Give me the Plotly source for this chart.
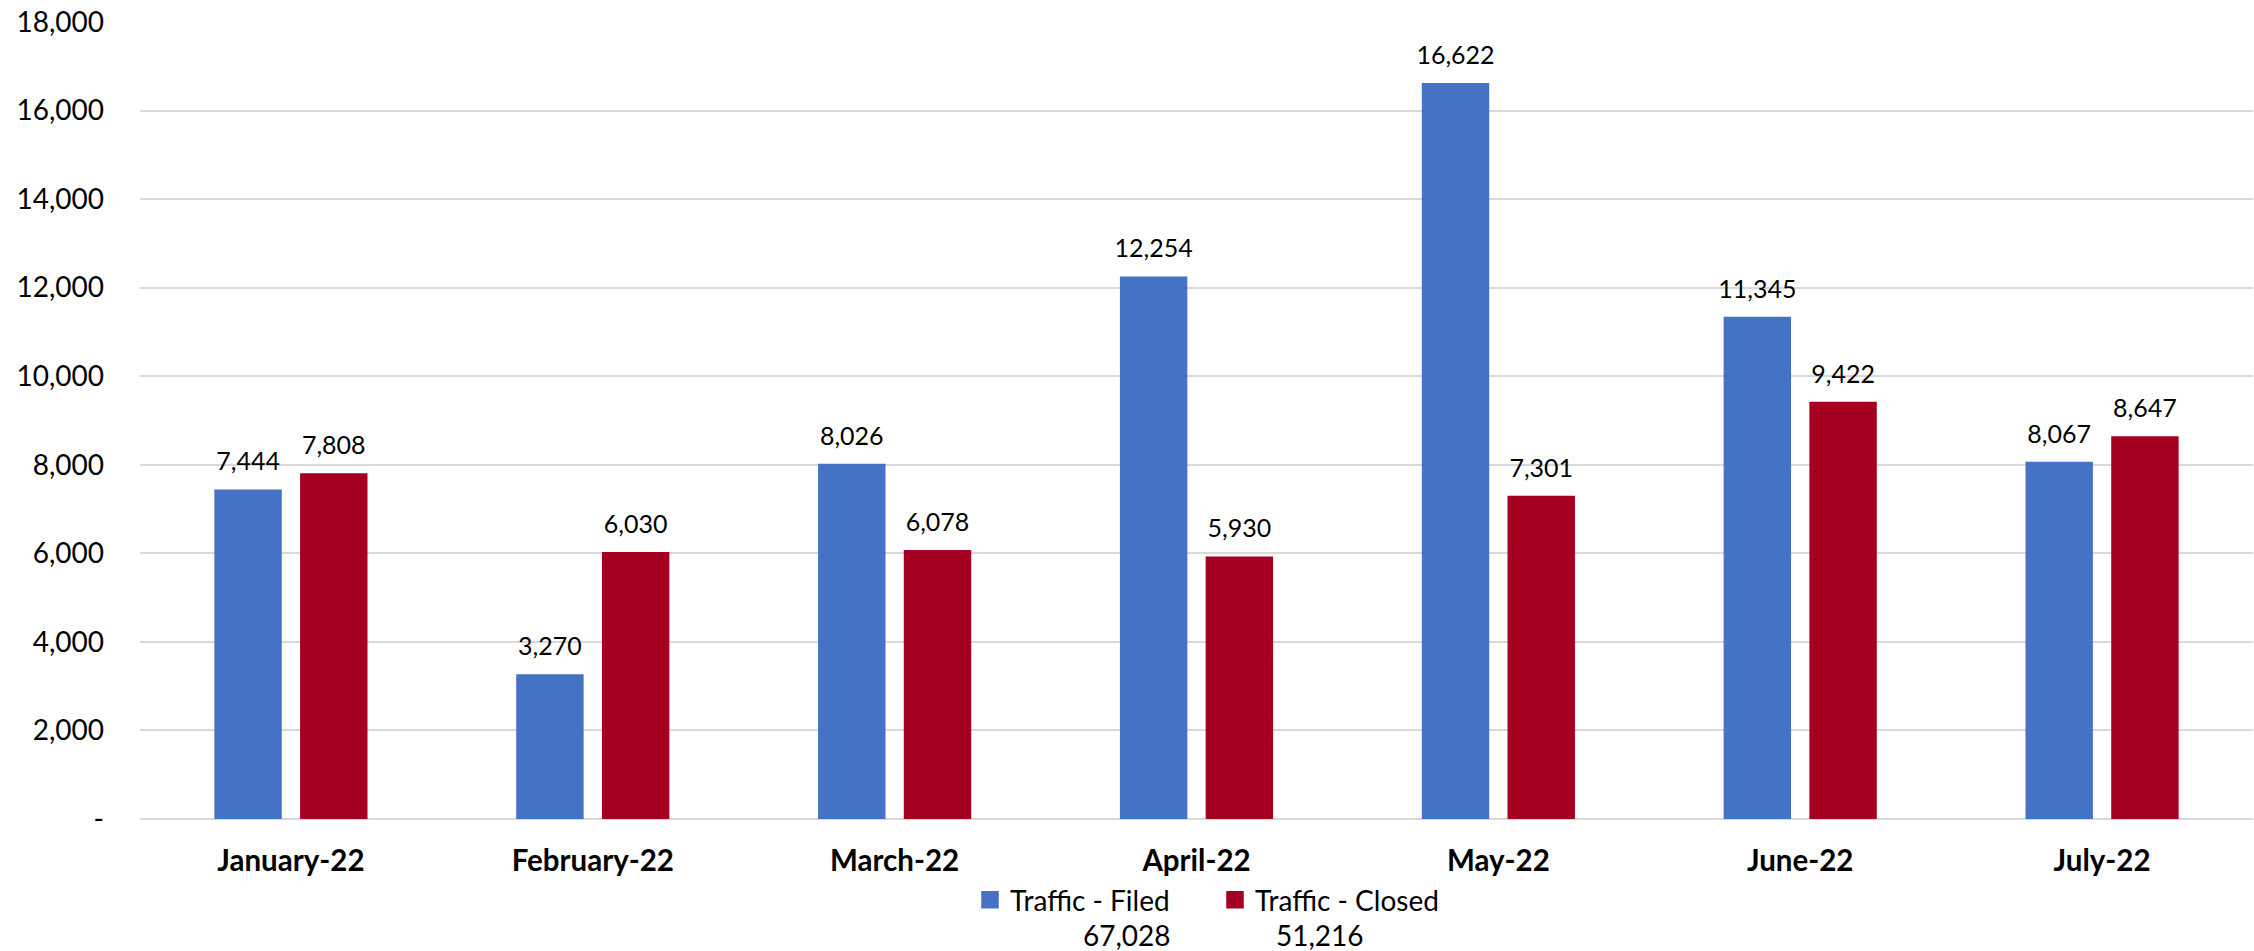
import plotly.graph_objects as go

categories = ["January-22", "February-22", "March-22", "April-22", "May-22", "June-22", "July-22"]
filed = [7444, 3270, 8026, 12254, 16622, 11345, 8067]
closed = [7808, 6030, 6078, 5930, 7301, 9422, 8647]
series_names = ["Traffic - Filed", "Traffic - Closed"]
y_tickvals = [0, 2000, 4000, 6000, 8000, 10000, 12000, 14000, 16000, 18000]
y_ticktext = ["-", "2,000", "4,000", "6,000", "8,000", "10,000", "12,000", "14,000", "16,000", "18,000"]

BLUE = "#4472C4"
RED = "#A50021"
FONT = "Lato"

W, H = 2254, 951
ML, MR, MT = 140, 1, 22
MB = H - 819

series = [(series_names[0], filed, BLUE, "g1"), (series_names[1], closed, RED, "g2")]

fig = go.Figure()
# bars
for name, vals, col, grp in series:
    fig.add_trace(go.Bar(
        x=categories, y=vals, name=name, marker_color=col,
        marker_line_width=0, offsetgroup=grp,
        showlegend=False, legendgroup=name,
    ))
# data labels (grouped scatter text, offset above the bar tops)
for name, vals, col, grp in series:
    fig.add_trace(go.Scatter(
        x=categories, y=vals, mode="markers+text", name=name,
        offsetgroup=grp, legendgroup=name, showlegend=False,
        marker=dict(size=19, color="rgba(0,0,0,0)"),
        texttemplate="%{y:,}", textposition="top center",
        textfont=dict(family=FONT, size=25, color="black"),
        cliponaxis=False, hoverinfo="skip",
    ))
# legend entries
for name, vals, col, grp in series:
    fig.add_trace(go.Scatter(
        x=[None], y=[None], mode="markers", name=name, legendgroup=name,
        offsetgroup=grp,
        marker=dict(symbol="square", size=16, color=col, line=dict(color=col, width=1.5)),
    ))

pw = W - ML - MR
ph = H - MT - MB

def px_x(x):
    return (x - ML) / pw

def px_y(y):
    return (H - MB - y) / ph

totals = [sum(filed), sum(closed)]
total_x = [1127, 1320]
for t, tx in zip(totals, total_x):
    fig.add_annotation(
        x=px_x(tx), y=px_y(935), xref="paper", yref="paper",
        text=f"{t:,}", showarrow=False,
        font=dict(family=FONT, size=28, color="black"),
        xanchor="center", yanchor="middle",
    )

fig.update_layout(
    width=W, height=H,
    margin=dict(l=ML, r=MR, t=MT, b=MB),
    paper_bgcolor="white", plot_bgcolor="white",
    barmode="group", bargap=0.432, bargroupgap=0.2135,
    scattermode="group", scattergap=0.432,
    font=dict(family=FONT, color="black"),
    legend=dict(
        orientation="h", x=px_x(970), y=px_y(875),
        xanchor="left", yanchor="top",
        font=dict(family=FONT, size=28, color="black"),
        entrywidth=200, entrywidthmode="pixels",
        bgcolor="rgba(0,0,0,0)",
    ),
    xaxis=dict(
        type="category", showgrid=False, showline=False, zeroline=False,
        ticks="", ticklabelstandoff=21,
        tickfont=dict(family=FONT, size=29.5, color="black", weight="bold"),
    ),
    yaxis=dict(
        range=[0, 18000], tickvals=y_tickvals, ticktext=y_ticktext,
        showgrid=True, gridcolor="#D9D9D9", gridwidth=2,
        zeroline=True, zerolinecolor="#D9D9D9", zerolinewidth=2,
        showline=False, ticks="", ticklabelstandoff=35,
        tickfont=dict(family=FONT, size=28, color="black"),
    ),
)

fig.write_html(
    "out.html",
    config={"displayModeBar": False},
    post_script="document.body.style.margin='0';document.body.style.overflow='hidden';",
)
